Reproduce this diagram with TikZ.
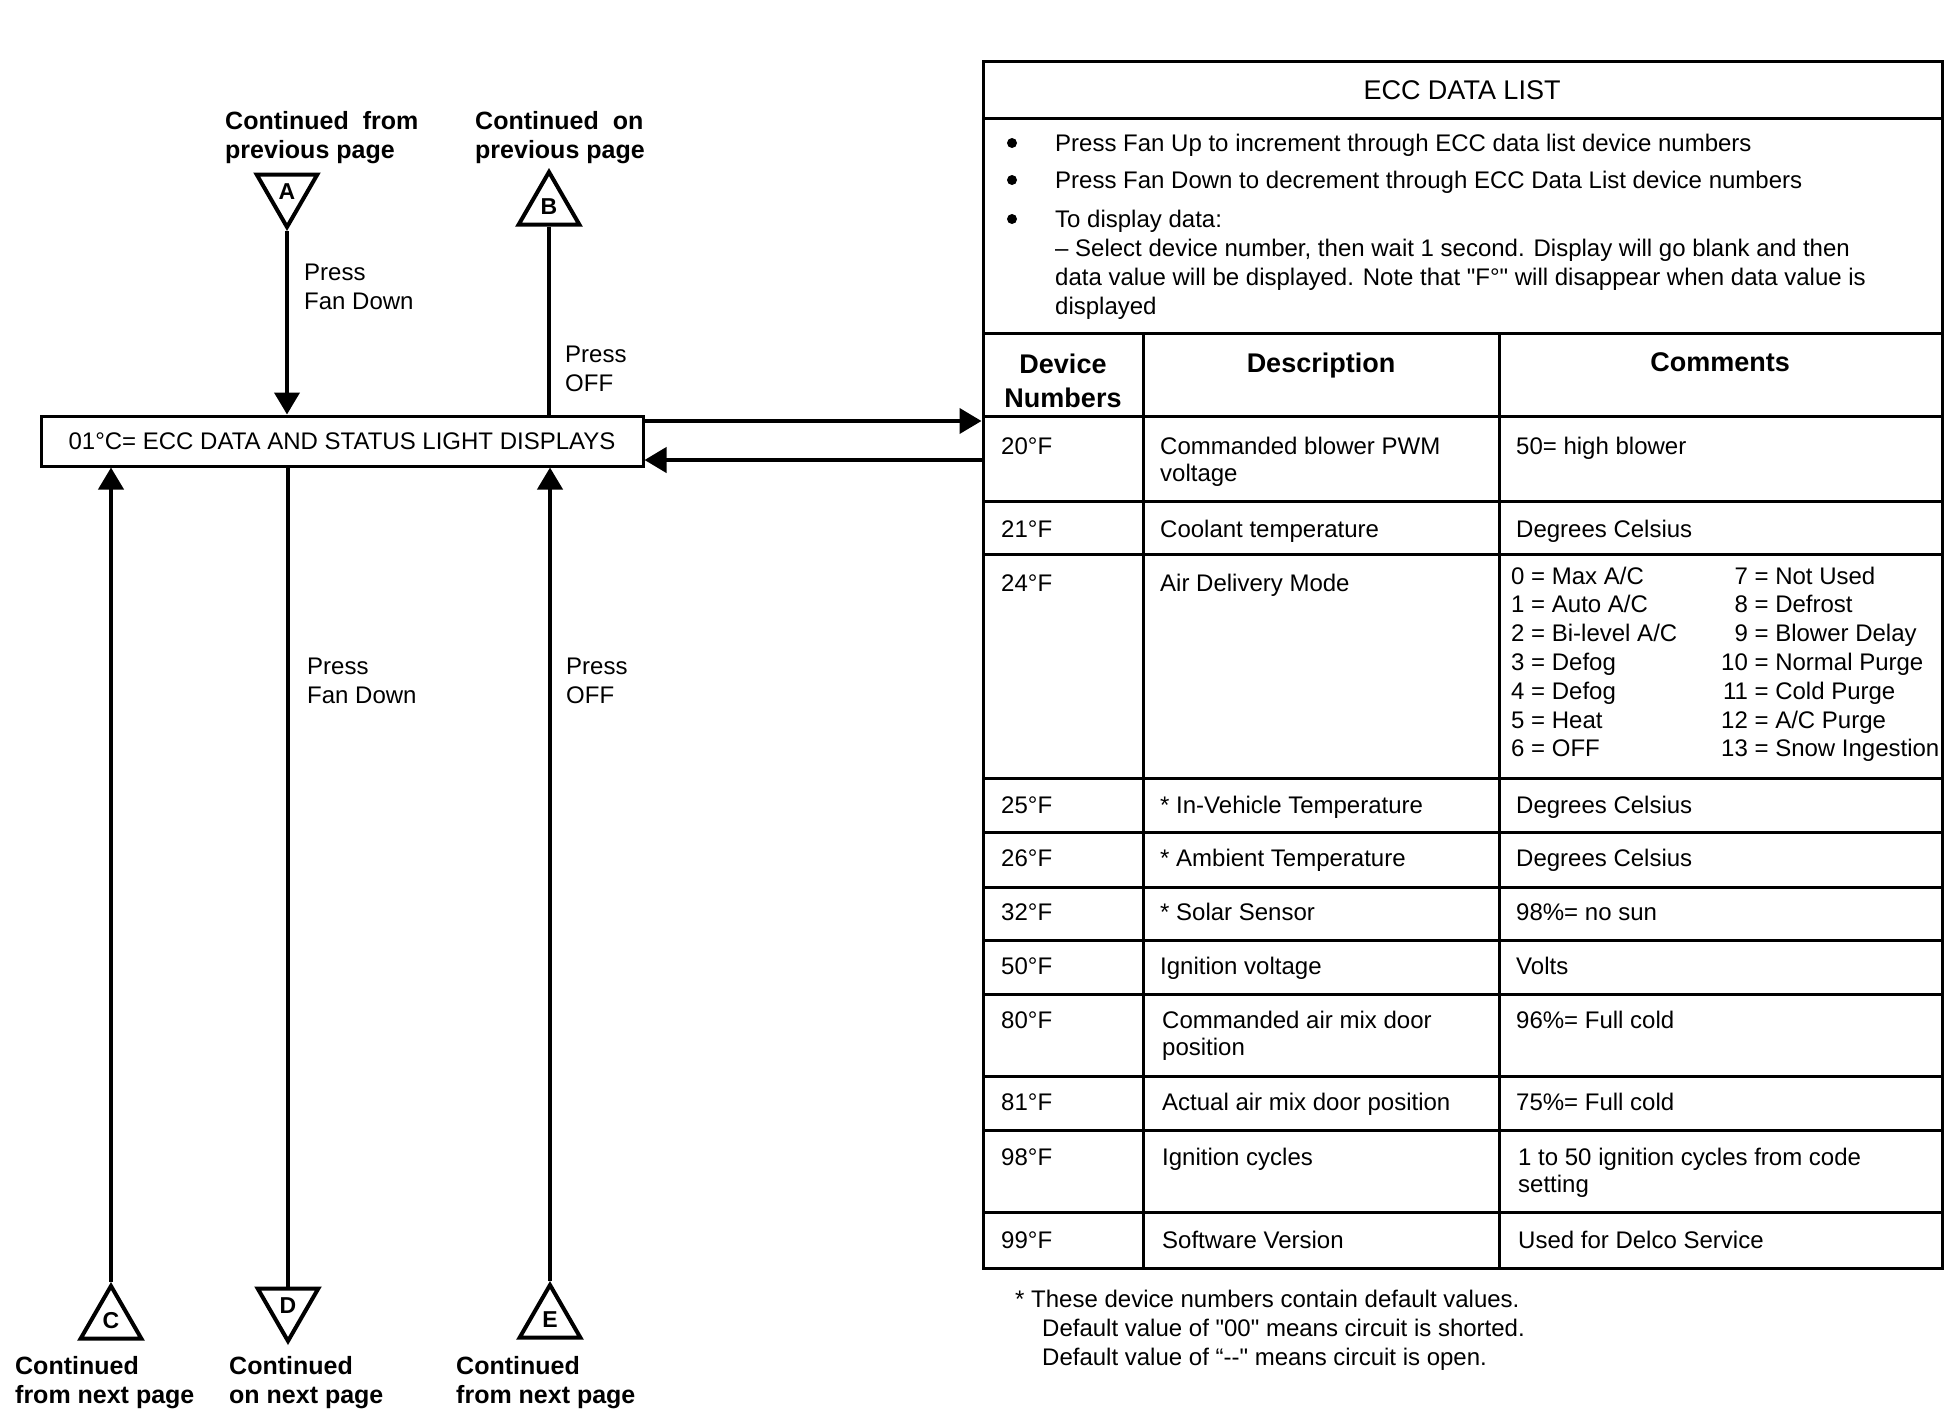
\documentclass[tikz,border=0pt]{standalone}
\usepackage{fontspec}
\setmainfont{Liberation Sans}
\usetikzlibrary{arrows.meta,shapes.geometric}
\newcommand\rnum[1]{\makebox[26.7pt][r]{#1}}
\tikzset{
  conn/.style={line width=4pt},
  arr/.style={line width=4pt,-{Triangle[length=22pt,width=25pt]}},
  tri/.style={regular polygon, regular polygon sides=3, draw, line width=4pt, minimum size=70pt, inner sep=0pt, font=\fontsize{23}{26}\selectfont\bfseries},
  tridown/.style={tri, shape border rotate=180},
  lbl/.style={anchor=north west, inner sep=0pt, align=left, font=\fontsize{25}{29}\selectfont\bfseries},
  press/.style={anchor=north west, inner sep=0pt, align=left, font=\fontsize{24}{29}\selectfont},
  cell/.style={anchor=base west, inner sep=0pt, font=\fontsize{24}{29}\selectfont},
  cellml/.style={anchor=north west, inner sep=0pt, align=left, font=\fontsize{24}{27.5}\selectfont},
  hdr/.style={inner sep=0pt, align=center, font=\fontsize{27}{34}\selectfont\bfseries},
  gridline/.style={line width=3pt},
  dispbox/.style={draw, line width=3pt, minimum width=602pt, minimum height=50pt, inner sep=0pt, font=\fontsize{24}{29}\selectfont},
}
\begin{document}
\begin{tikzpicture}[x=1pt,y=-1pt]
\useasboundingbox (0,0) rectangle (1948,1408);

% central display box
\node[dispbox] (disp) at (342,441) {01°C= ECC DATA AND STATUS LIGHT DISPLAYS};

% off-page connectors
\node[tridown] (A) at (287,192) {A};
\node[tri] (B) at (549,207) {B};
\node[tri] (C) at (111,1321) {C};
\node[tridown] (D) at (288,1306) {D};
\node[tri] (E) at (550,1320) {E};

% labels
\node[lbl] (lA) at (225,111) {Continued\hspace{14pt}from\\previous page};
\node[lbl] (lB) at (475,111) {Continued\hspace{14pt}on\\previous page};
\node[lbl] (lC) at (15,1356) {Continued\\from next page};
\node[lbl] (lD) at (229,1356) {Continued\\on next page};
\node[lbl] (lE) at (456,1356) {Continued\\from next page};

\node[press] (p1) at (304,264) {Press\\Fan Down};
\node[press] (p2) at (565,346) {Press\\OFF};
\node[press] (p3) at (307,658) {Press\\Fan Down};
\node[press] (p4) at (566,658) {Press\\OFF};

% table outline
\node[draw, gridline, minimum width=959pt, minimum height=1207pt, inner sep=0pt] (tbl) at (1462.5,664.5) {};

% connectors
\draw[arr] (A.corner 1) -- (A.corner 1 |- disp.north);
\draw[conn] (B.corner 1 |- disp.north) -- (B.side 2);
\draw[arr] (C.corner 1) -- (C.corner 1 |- disp.south);
\draw[conn] (D.corner 1 |- disp.south) -- (D.side 2);
\draw[arr] (E.corner 1) -- (E.corner 1 |- disp.south);
\draw[arr] (disp.east |- 0,421) -- (tbl.west |- 0,421);
\draw[arr] (tbl.west |- 0,460) -- (disp.east |- 0,460);

% table grid
\foreach \yy in {118,333,416,501,554,778,832,887,940,994,1076,1130,1212}
  \draw[gridline] (983,\yy) -- (1942,\yy);
\draw[gridline] (1143,333) -- (1143,1268);
\draw[gridline] (1499,333) -- (1499,1268);

% title
\node[anchor=base, inner sep=0pt, font=\fontsize{27}{32}\selectfont] (title) at (1462,99) {ECC DATA LIST};

% bullets
\foreach \yy in {143,180,219} \fill (1012,\yy) circle (5pt);
\node[cell] (b1) at (1055,151) {Press Fan Up to increment through ECC data list device numbers};
\node[cell] (b2) at (1055,188) {Press Fan Down to decrement through ECC Data List device numbers};
\node[anchor=north west, inner sep=0pt, align=left, font=\fontsize{24}{29}\selectfont] (b3) at (1055,209.5)
  {To display data:\\– Select device number, then wait 1 second. Display will go blank and then\\data value will be displayed. Note that \textquotedbl F°\textquotedbl{} will disappear when data value is\\displayed};

% header
\node[hdr, anchor=north] (h1) at (1063,353.5) {Device\\Numbers};
\node[hdr, anchor=base] (h2) at (1321,372) {Description};
\node[hdr, anchor=base] (h3) at (1720,371) {Comments};

% rows
\node[cell] at (1001,454) {20°F};
\node[cellml] at (1160,436.5) {Commanded blower PWM\\voltage};
\node[cell] at (1516,454) {50= high blower};

\node[cell] at (1001,537) {21°F};
\node[cell] at (1160,537) {Coolant temperature};
\node[cell] at (1516,537) {Degrees Celsius};

\node[cell] at (1001,591) {24°F};
\node[cell] at (1160,591) {Air Delivery Mode};
\node[anchor=north west, inner sep=0pt, align=left, font=\fontsize{24}{28.8}\selectfont] at (1511,566.5)
  {0 = Max A/C\\1 = Auto A/C\\2 = Bi-level A/C\\3 = Defog\\4 = Defog\\5 = Heat\\6 = OFF};
\node[anchor=north west, inner sep=0pt, align=left, font=\fontsize{24}{28.8}\selectfont] at (1721,566.5)
  {\rnum{7} = Not Used\\\rnum{8} = Defrost\\\rnum{9} = Blower Delay\\\rnum{10} = Normal Purge\\\rnum{11} = Cold Purge\\\rnum{12} = A/C Purge\\\rnum{13} = Snow Ingestion};

\node[cell] at (1001,813) {25°F};
\node[cell] at (1160,813) {* In-Vehicle Temperature};
\node[cell] at (1516,813) {Degrees Celsius};

\node[cell] at (1001,866) {26°F};
\node[cell] at (1160,866) {* Ambient Temperature};
\node[cell] at (1516,866) {Degrees Celsius};

\node[cell] at (1001,920) {32°F};
\node[cell] at (1160,920) {* Solar Sensor};
\node[cell] at (1516,920) {98\%= no sun};

\node[cell] at (1001,974) {50°F};
\node[cell] at (1160,974) {Ignition voltage};
\node[cell] at (1516,974) {Volts};

\node[cell] at (1001,1028) {80°F};
\node[cellml] at (1162,1010.5) {Commanded air mix door\\position};
\node[cell] at (1516,1028) {96\%= Full cold};

\node[cell] at (1001,1110) {81°F};
\node[cell] at (1162,1110) {Actual air mix door position};
\node[cell] at (1516,1110) {75\%= Full cold};

\node[cell] at (1001,1165) {98°F};
\node[cell] at (1162,1165) {Ignition cycles};
\node[cellml] at (1518,1147.5) {1 to 50 ignition cycles from code\\setting};

\node[cell] at (1001,1248) {99°F};
\node[cell] at (1162,1248) {Software Version};
\node[cell] at (1518,1248) {Used for Delco Service};

% footnote
\node[anchor=north west, inner sep=0pt, align=left, font=\fontsize{24}{29}\selectfont] (fn) at (1015,1289.5)
  {* These device numbers contain default values.\\\hspace*{27pt}Default value of \textquotedbl 00\textquotedbl{} means circuit is shorted.\\\hspace*{27pt}Default value of “-{}-\textquotedbl{} means circuit is open.};
\end{tikzpicture}
\end{document}
